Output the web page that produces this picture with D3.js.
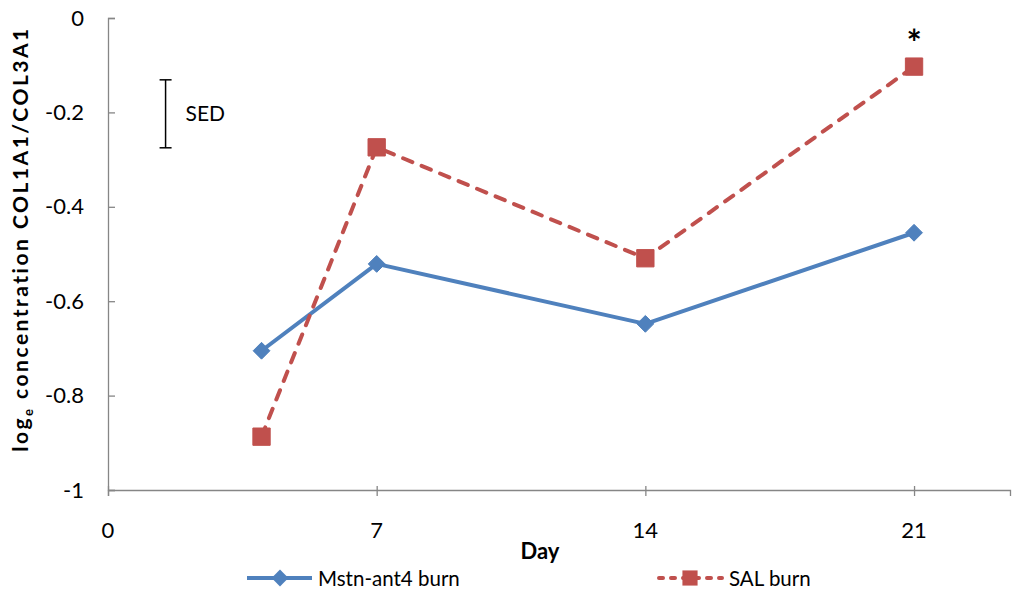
<!DOCTYPE html>
<html>
<head>
<meta charset="utf-8">
<script src="https://cdn.jsdelivr.net/npm/d3@7"></script>
<style>
  html, body { margin: 0; padding: 0; background: #fff; }
  svg { display: block; font-family: Lato, "Open Sans", sans-serif; }
</style>
</head>
<body>
<svg id="chart" width="1020" height="596"></svg>
<script>
// ---- data ----
const days = [4, 7, 14, 21];
const mstnValues = [-0.705, -0.521, -0.648, -0.455];
const salValues = [-0.887, -0.274, -0.509, -0.103];
const seriesNames = ["Mstn-ant4 burn", "SAL burn"];
const xTickValues = [0, 7, 14, 21];
const yTickValues = [0, -0.2, -0.4, -0.6, -0.8, -1];
const yTickLabels = ["0", "-0.2", "-0.4", "-0.6", "-0.8", "-1"];
const sedDay = [1.5];
const sedRange = [-0.131, -0.275];
const sigDays = [21];
const sigValues = [-0.103];

// ---- layout ----
const svg = d3.select("#chart");
const x = d3.scaleLinear().domain([0, 23.5]).range([108, 1010]);
const y = d3.scaleLinear().domain([-1, 0]).range([490, 18]);
const axisColor = "#868686";
const blue = "#4f81bd", red = "#c0504d";

// y axis
const yAxis = d3.axisRight(y).tickValues(yTickValues).tickSize(7).tickFormat("");
const gy = svg.append("g").attr("transform", "translate(108,0)").call(yAxis);
gy.select(".domain").attr("stroke", axisColor).attr("stroke-width", 1.3);
gy.selectAll(".tick line").attr("stroke", axisColor).attr("stroke-width", 1.3);
svg.append("g").selectAll("text").data(yTickValues).join("text")
  .attr("x", 84).attr("y", d => y(d) + 7.5)
  .attr("text-anchor", "end").attr("font-size", 22).attr("fill", "#000")
  .text((d, i) => yTickLabels[i]);

// x axis
const xAxis = d3.axisBottom(x).tickValues(xTickValues).tickSize(6).tickFormat("");
const gx = svg.append("g").attr("transform", "translate(0,490)").call(xAxis);
gx.select(".domain").attr("stroke", axisColor).attr("stroke-width", 1.3);
gx.selectAll(".tick line").attr("stroke", axisColor).attr("stroke-width", 1.3).attr("y1", -4);
svg.append("g").selectAll("text").data(xTickValues).join("text")
  .attr("x", d => x(d)).attr("y", 538)
  .attr("text-anchor", "middle").attr("font-size", 22).attr("fill", "#000")
  .text(d => d);

// axis titles
svg.append("text").attr("x", 540).attr("y", 559).attr("text-anchor", "middle")
  .attr("font-size", 22).attr("font-weight", "bold").text("Day");
const yt = svg.append("text").attr("transform", "translate(28,239) rotate(-90)")
  .attr("text-anchor", "middle").attr("font-size", 21).attr("font-weight", "bold")
  .attr("letter-spacing", 2.5);
yt.append("tspan").text("log");
yt.append("tspan").attr("font-size", 13).attr("dy", 5).text("e");
yt.append("tspan").attr("dy", -5).text(" concentration  COL1A1/COL3A1");

// SED bar
const sg = svg.append("g").attr("stroke", "#000").attr("stroke-width", 1.5);
sedDay.forEach(d => {
  sg.append("line").attr("x1", x(d)).attr("x2", x(d)).attr("y1", y(sedRange[0])).attr("y2", y(sedRange[1]));
  sg.append("line").attr("x1", x(d) - 6).attr("x2", x(d) + 6).attr("y1", y(sedRange[0])).attr("y2", y(sedRange[0]));
  sg.append("line").attr("x1", x(d) - 6).attr("x2", x(d) + 6).attr("y1", y(sedRange[1])).attr("y2", y(sedRange[1]));
  svg.append("text").attr("x", x(d) + 20).attr("y", y((sedRange[0] + sedRange[1]) / 2) + 7)
    .attr("font-size", 21).text("SED");
});

// series
const line = d3.line().x(d => x(d[0])).y(d => y(d[1]));
const mstn = days.map((d, i) => [d, mstnValues[i]]);
const sal = days.map((d, i) => [d, salValues[i]]);

svg.append("path").datum(mstn).attr("d", line).attr("fill", "none")
  .attr("stroke", blue).attr("stroke-width", 4).attr("stroke-linejoin", "round");
svg.append("path").datum(sal).attr("d", line).attr("fill", "none")
  .attr("stroke", red).attr("stroke-width", 4).attr("stroke-linejoin", "round")
  .attr("stroke-linecap", "round").attr("stroke-dasharray", "10,10");

const diamond = d3.symbol().type(d3.symbolDiamond2).size(180);
const square = d3.symbol().type(d3.symbolSquare).size(300);

svg.append("g").selectAll("path").data(mstn).join("path")
  .attr("d", diamond).attr("transform", d => `translate(${x(d[0])},${y(d[1])})`)
  .attr("fill", blue).attr("stroke", blue).attr("stroke-width", 1);
svg.append("g").selectAll("path").data(sal).join("path")
  .attr("d", square).attr("transform", d => `translate(${x(d[0])},${y(d[1])})`)
  .attr("fill", red).attr("stroke", red).attr("stroke-width", 1);

// significance asterisk
svg.append("g").selectAll("text").data(sigDays).join("text")
  .attr("x", d => x(d)).attr("y", (d, i) => y(sigValues[i]) - 11)
  .attr("text-anchor", "middle").attr("font-size", 36).attr("font-weight", "bold").text("*");

// legend
const ly = 578;
const lg = svg.append("g");
lg.append("line").attr("x1", 247).attr("x2", 312).attr("y1", ly).attr("y2", ly)
  .attr("stroke", blue).attr("stroke-width", 4);
lg.append("path").attr("d", diamond).attr("transform", `translate(280,${ly})`).attr("fill", blue);
lg.append("text").attr("x", 318).attr("y", ly + 8).attr("font-size", 20.5).text(seriesNames[0]);
lg.append("line").attr("x1", 659).attr("x2", 722).attr("y1", ly).attr("y2", ly)
  .attr("stroke", red).attr("stroke-width", 4).attr("stroke-linecap", "round").attr("stroke-dasharray", "4,8");
lg.append("path").attr("d", d3.symbol().type(d3.symbolSquare).size(230)).attr("transform", `translate(690,${ly})`).attr("fill", red);
lg.append("text").attr("x", 729).attr("y", ly + 8).attr("font-size", 20.5).text(seriesNames[1]);
</script>
</body>
</html>
